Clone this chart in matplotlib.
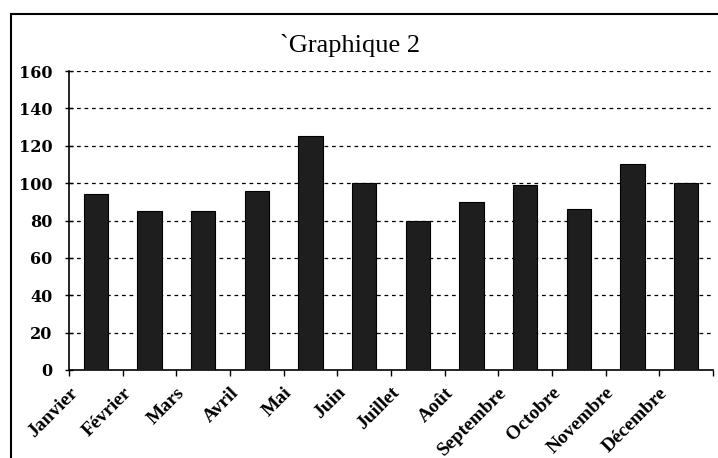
import matplotlib
matplotlib.use("Agg")
import matplotlib.pyplot as plt
from matplotlib.patches import Rectangle
from matplotlib.transforms import ScaledTranslation
import numpy as np

months = ["Janvier", "Février", "Mars", "Avril", "Mai", "Juin", "Juillet",
          "Août", "Septembre", "Octobre", "Novembre", "Décembre"]
values = [94, 85, 85, 96, 125, 100, 80, 90, 99, 86, 110, 100]
yticks = [0, 20, 40, 60, 80, 100, 120, 140, 160]
title = "`Graphique 2"

plt.rcParams['font.family'] = ['Liberation Serif', 'DejaVu Serif']

W, H = 718, 458
fig = plt.figure(figsize=(W / 100, H / 100), dpi=100)
ax = fig.add_axes([69 / W, (H - 370) / H, (713 - 69) / W, (370 - 71) / H])

x = np.arange(len(months))
ax.bar(x, values, width=0.45, color="#1e1e1e", edgecolor="black", linewidth=0.8, zorder=3)

ax.set_xlim(-0.5, len(months) - 0.5)
ax.set_ylim(0, 160)
ax.set_yticks(yticks)
ax.set_yticklabels([str(v) for v in yticks], fontsize=11.5, fontweight="bold",
                   family=["DejaVu Serif"])
for v in yticks[1:]:
    ax.axhline(v, color="black", linestyle=(0, (3, 3)), linewidth=0.9, zorder=1)

ax.set_xticks(x)
ax.set_xticklabels(months, rotation=45, ha="right", va="center",
                   rotation_mode="anchor", fontsize=14, fontweight="bold")
ax.set_xticks(np.arange(len(months) + 1) - 0.5, minor=True)
ax.tick_params(axis="x", which="major", length=0, pad=14.5)
ax.tick_params(axis="x", which="minor", length=4, direction="out", width=1)
ax.tick_params(axis="y", length=6, direction="inout", width=1, pad=9)
offset = ScaledTranslation(-21 / 100, 0, fig.dpi_scale_trans)
for lab in ax.get_xticklabels():
    lab.set_transform(lab.get_transform() + offset)

for s in ["top", "right"]:
    ax.spines[s].set_visible(False)
ax.spines["left"].set_linewidth(1.2)
ax.spines["bottom"].set_linewidth(1.2)

fig.text(350 / W, (H - 52) / H, title, ha="center", va="baseline", fontsize=19)

fig.patches.append(Rectangle((11 / W, -0.1), 1.2, (H - 14) / H + 0.1,
                             transform=fig.transFigure, fill=False,
                             edgecolor="black", linewidth=1.5))

fig.savefig("out.png", dpi=100)
